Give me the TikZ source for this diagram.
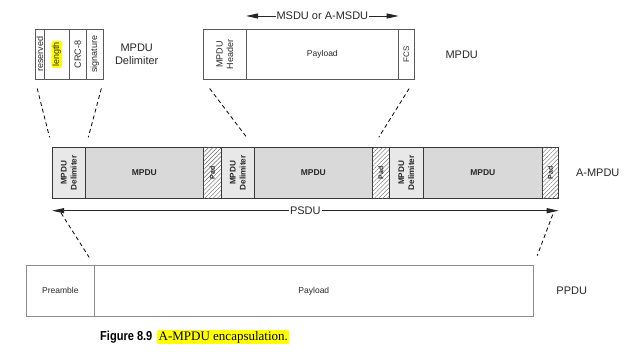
\documentclass[tikz,border=0pt]{standalone}
\usepackage{fontspec}
\setmainfont{Liberation Sans}
\newfontfamily\capserif{Liberation Serif}
\newfontfamily\capsans[FakeStretch=0.85]{Liberation Sans}
\usetikzlibrary{arrows.meta,patterns.meta,calc}
\definecolor{hl}{RGB}{255,255,0}
\definecolor{txt}{RGB}{40,40,40}
\tikzset{
  topcell/.style={draw=black!65,line width=0.7pt,inner sep=0pt,anchor=north west,minimum height=50pt,fill=white},
  acell/.style={draw=black!78,line width=0.7pt,inner sep=0pt,anchor=north west,minimum height=51pt},
  dcell/.style={acell,fill=black!9},
  mcell/.style={acell,fill=black!15},
  padcell/.style={acell,fill=white,postaction={pattern={Lines[angle=45,distance=3pt,line width=0.45pt]},pattern color=black!60}},
  pcell/.style={draw=black!45,line width=0.7pt,inner sep=0pt,anchor=north west,minimum height=51pt},
  vlab/.style={rotate=90,inner sep=0.5pt,text=txt,font=\fontsize{9}{10.5}\selectfont,align=center},
  vbold/.style={rotate=90,inner sep=0pt,text=txt,font=\fontsize{8.2}{9.8}\selectfont\bfseries,align=center},
  padlab/.style={rotate=90,inner sep=0pt,text=txt,font=\fontsize{7}{8}\selectfont\bfseries},
  inlab/.style={inner sep=0pt,text=txt,font=\fontsize{8.5}{10}\selectfont},
  blab/.style={inner sep=0pt,text=txt,font=\fontsize{8.5}{10}\selectfont\bfseries},
  biglab/.style={inner sep=0pt,text=txt,font=\fontsize{11}{13.5}\selectfont,align=center},
  dline/.style={draw=black,line width=0.8pt,dash pattern=on 4pt off 3pt},
  dimarrow/.style={draw=black!85,line width=0.9pt,{Triangle[length=12pt,width=5pt]}-{Triangle[length=12pt,width=5pt]}},
}
\begin{document}
\begin{tikzpicture}[x=1pt,y=-1pt]
\useasboundingbox[fill=white] (0,0) rectangle (640,352);

% MPDU delimiter detail
\node[topcell,minimum width=9pt] (d1) at (35,29) {};
\node[topcell,minimum width=25pt] (d2) at (44,29) {};
\node[topcell,minimum width=17pt] (d3) at (69,29) {};
\node[topcell,minimum width=17pt] (d4) at (86,29) {};
\node[vlab] (t1) at (d1.center) {reserved};
\node[vlab,fill=hl,rounded corners=2.5pt,inner sep=1.2pt] (t2) at (d2.center) {length};
\node[vlab] (t3) at (d3.center) {CRC-8};
\node[vlab] (t4) at (d4.center) {signature};
\node[biglab] (ldelim) at ($(d4.east)+(33,0)$) {MPDU\\Delimiter};

% MPDU detail
\node[topcell,minimum width=43pt] (m1) at (203,29) {};
\node[topcell,minimum width=152pt] (m2) at (246,29) {};
\node[topcell,minimum width=16pt] (m3) at (398,29) {};
\node[vlab] (u1) at (m1.center) {MPDU\\Header};
\node[inlab] (u2) at (m2.center) {Payload};
\node[vlab,font=\fontsize{8}{9}\selectfont] (u3) at (m3.center) {FCS};
\node[biglab] (lmpdu) at ($(m3.east)+(47,0)$) {MPDU};
\coordinate (msL) at ($(m2.north west)+(0,-13)$);
\coordinate (msR) at ($(m2.north east)+(0,-13)$);
\draw[dimarrow] (msL) -- (msR) node[midway,fill=white,biglab,inner xsep=1pt] (msdu) {MSDU or A-MSDU};

% A-MPDU row
\node[dcell,minimum width=33pt] (a1) at (52,147) {};
\node[mcell,minimum width=118pt] (a2) at (85,147) {};
\node[padcell,minimum width=18pt] (a3) at (203,147) {};
\node[dcell,minimum width=33pt] (a4) at (221,147) {};
\node[mcell,minimum width=118pt] (a5) at (254,147) {};
\node[padcell,minimum width=17pt] (a6) at (372,147) {};
\node[dcell,minimum width=34pt] (a7) at (389,147) {};
\node[mcell,minimum width=119pt] (a8) at (423,147) {};
\node[padcell,minimum width=16pt] (a9) at (542,147) {};
\node[vbold] (b1) at (a1.center) {MPDU\\Delimiter};
\node[blab] (b2) at (a2.center) {MPDU};
\node[padlab] (b3) at (a3.center) {Pad};
\node[vbold] (b4) at (a4.center) {MPDU\\Delimiter};
\node[blab] (b5) at (a5.center) {MPDU};
\node[padlab] (b6) at (a6.center) {Pad};
\node[vbold] (b7) at (a7.center) {MPDU\\Delimiter};
\node[blab] (b8) at (a8.center) {MPDU};
\node[padlab] (b9) at (a9.center) {Pad};
\node[biglab] (lampdu) at ($(a9.east)+(39,0)$) {A-MPDU};

% PSDU arrow
\coordinate (psL) at ($(a1.south west)+(0,12)$);
\coordinate (psR) at ($(a9.south east)+(0,12)$);
\draw[dimarrow] (psL) -- (psR) node[midway,fill=white,biglab,inner xsep=1pt] (psdu) {PSDU};

% PPDU row
\node[pcell,minimum width=68pt] (p1) at (26,265) {};
\node[pcell,minimum width=439pt] (p2) at (94,265) {};
\node[inlab] (q1) at (p1.center) {Preamble};
\node[inlab] (q2) at (p2.center) {Payload};
\node[biglab] (lppdu) at ($(p2.east)+(38,0)$) {PPDU};

% dashed expansion lines
\draw[dline,shorten <=9pt,shorten >=10pt] (d1.south west) -- (a1.north west);
\draw[dline,shorten <=9pt,shorten >=10pt] (d4.south east) -- (a1.north east);
\draw[dline,shorten <=11pt,shorten >=12pt] (m1.south west) -- (a5.north west);
\draw[dline,shorten <=10.5pt,shorten >=11.5pt] (m3.south east) -- (a5.north east);
\draw[dline,shorten <=17pt,shorten >=9pt] (a1.south west) -- (p2.north west);
\draw[dline,shorten <=17pt,shorten >=10pt] (a9.south east) -- (p2.north east);

% caption
\node[anchor=west,inner sep=0pt,font=\capsans\bfseries\fontsize{13}{15}\selectfont] (fig) at (100,337) {Figure 8.9};
\node[anchor=west,inner xsep=1.5pt,inner ysep=1pt,fill=hl,rounded corners=1pt,font=\capserif\fontsize{13}{15}\selectfont] (cap) at (157,337) {A-MPDU encapsulation.};
\end{tikzpicture}
\end{document}
